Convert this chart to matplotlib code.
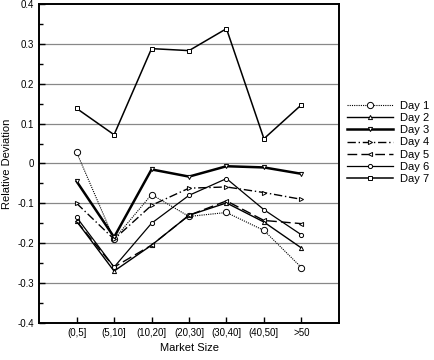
import numpy as np
import matplotlib
matplotlib.use('Agg')
import matplotlib.pyplot as plt

plt.rcParams['font.family'] = ['Liberation Sans', 'DejaVu Sans']

# data
categories = ['(0,5]', '(5,10]', '(10,20]', '(20,30]', '(30,40]', '(40,50]', '>50']
day1 = [0.028, -0.19, -0.078, -0.133, -0.123, -0.168, -0.261]
day2 = [-0.145, -0.27, -0.205, -0.13, -0.099, -0.147, -0.212]
day3 = [-0.045, -0.185, -0.015, -0.033, -0.007, -0.01, -0.026]
day4 = [-0.10, -0.19, -0.105, -0.062, -0.059, -0.073, -0.09]
day5 = [-0.145, -0.26, -0.205, -0.13, -0.094, -0.143, -0.151]
day6 = [-0.135, -0.26, -0.15, -0.08, -0.038, -0.116, -0.179]
day7 = [0.138, 0.072, 0.288, 0.283, 0.338, 0.062, 0.147]
yticks = [-0.4, -0.3, -0.2, -0.1, 0, 0.1, 0.2, 0.3, 0.4]
ytick_labels = ['-0.4', '-0.3', '-0.2', '-0.1', '0', '0.1', '0.2', '0.3', '0.4']

x = np.arange(1, len(categories) + 1)

fig = plt.figure(figsize=(4.35, 3.6), dpi=100)
ax = fig.add_axes([0.09, 0.103, 0.689, 0.886])

for v in yticks[1:-1]:
    ax.axhline(v, color='#888888', lw=0.9, zorder=0)

styles = [
    (day1, 'Day 1', dict(ls=(0, (1, 1)), lw=0.8, marker='o', ms=4.5)),
    (day2, 'Day 2', dict(ls='-', lw=1.0, marker='^', ms=3)),
    (day3, 'Day 3', dict(ls='-', lw=1.8, marker='v', ms=3)),
    (day4, 'Day 4', dict(ls=(0, (6, 2, 1, 2)), lw=1.0, marker='>', ms=3)),
    (day5, 'Day 5', dict(ls=(0, (7, 3)), lw=1.0, marker='<', ms=3)),
    (day6, 'Day 6', dict(ls='-', lw=0.9, marker='o', ms=3)),
    (day7, 'Day 7', dict(ls='-', lw=1.1, marker='s', ms=3)),
]
for vals, lab, st in styles:
    ax.plot(x, vals, color='black', mfc='white', mec='black', mew=0.7,
            label=lab, **st)

ax.set_xlim(0, 8)
ax.set_ylim(-0.4, 0.4)
ax.set_xticks(x)
ax.set_xticklabels(categories)
ax.set_yticks(yticks)
ax.set_yticklabels(ytick_labels)
ax.set_yticks(np.arange(-0.35, 0.4, 0.1), minor=True)
ax.tick_params(direction='in', labelsize=7, length=4, width=1)
ax.tick_params(which='minor', direction='in', length=3, width=1)
for s in ax.spines.values():
    s.set_linewidth(1.4)

ax.set_xlabel('Market Size', fontsize=8)
ax.set_ylabel('Relative Deviation', fontsize=8)

ax.legend(loc='upper left', bbox_to_anchor=(0.797, 0.72),
          bbox_transform=fig.transFigure, frameon=False,
          fontsize=8, handlelength=4.2, labelspacing=0.2, handletextpad=0.6,
          borderaxespad=0, borderpad=0)

fig.savefig('out.png', dpi=100, facecolor='white')
